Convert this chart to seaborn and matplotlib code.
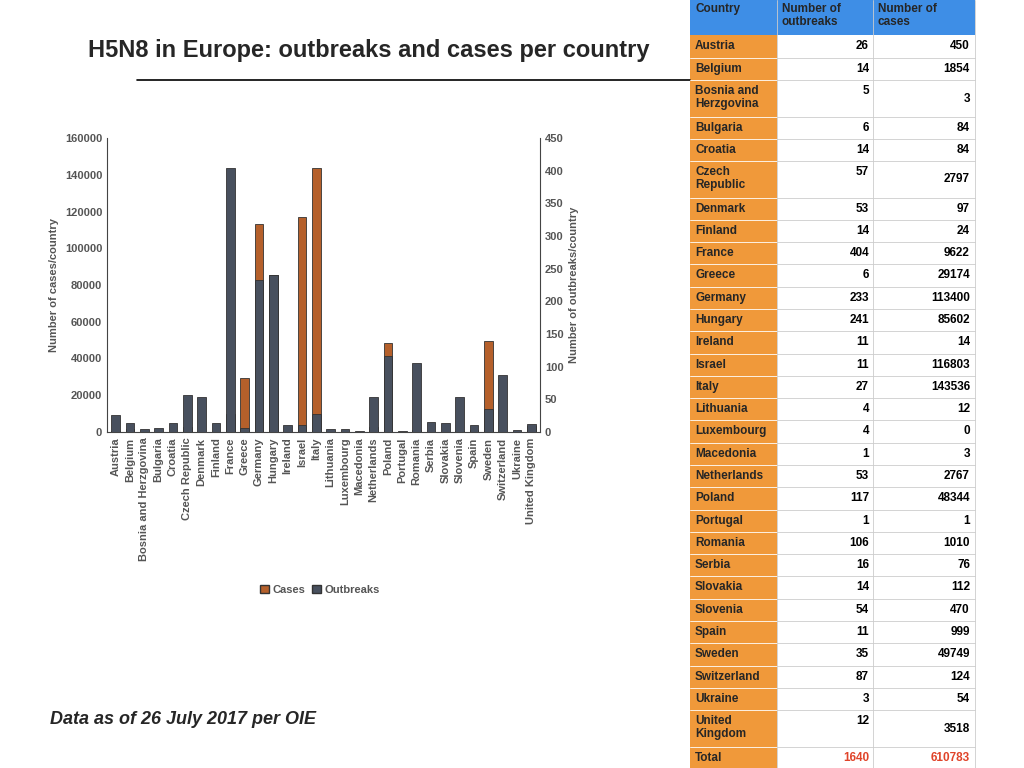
import matplotlib
matplotlib.use("Agg")
import matplotlib.pyplot as plt
import seaborn as sns
import pandas as pd
from matplotlib.patches import Rectangle, Patch

countries = ["Austria", "Belgium", "Bosnia and Herzgovina", "Bulgaria", "Croatia", "Czech Republic",
             "Denmark", "Finland", "France", "Greece", "Germany", "Hungary", "Ireland", "Israel", "Italy",
             "Lithuania", "Luxembourg", "Macedonia", "Netherlands", "Poland", "Portugal", "Romania",
             "Serbia", "Slovakia", "Slovenia", "Spain", "Sweden", "Switzerland", "Ukraine", "United Kingdom"]
table_names = ["Austria", "Belgium", "Bosnia and\nHerzgovina", "Bulgaria", "Croatia", "Czech\nRepublic",
               "Denmark", "Finland", "France", "Greece", "Germany", "Hungary", "Ireland", "Israel", "Italy",
               "Lithuania", "Luxembourg", "Macedonia", "Netherlands", "Poland", "Portugal", "Romania",
               "Serbia", "Slovakia", "Slovenia", "Spain", "Sweden", "Switzerland", "Ukraine", "United\nKingdom"]
outbreaks = [26, 14, 5, 6, 14, 57, 53, 14, 404, 6, 233, 241, 11, 11, 27, 4, 4, 1, 53, 117, 1, 106,
             16, 14, 54, 11, 35, 87, 3, 12]
cases = [450, 1854, 3, 84, 84, 2797, 97, 24, 9622, 29174, 113400, 85602, 14, 116803, 143536, 12, 0, 3,
         2767, 48344, 1, 1010, 76, 112, 470, 999, 49749, 124, 54, 3518]
# row boundaries of the table in pixels (from top)
row_edges = [0, 35, 58, 80, 117, 139, 161, 198, 220, 242, 264, 287, 309, 331, 354, 376, 398, 420, 443,
             465, 487, 510, 532, 554, 576, 599, 621, 643, 666, 688, 710, 747, 768]

W, H = 1024, 768
CASE_C = "#b5602b"
OUT_C = "#48505e"
GRAY = "#555555"

sns.set_style("white")
plt.rcParams['font.family'] = ['Liberation Sans', 'DejaVu Sans']
fig = plt.figure(figsize=(10.24, 7.68), dpi=100)

def fx(x): return x / W
def fy(y): return 1 - y / H

df = pd.DataFrame({"country": countries, "cases": cases, "outbreaks": outbreaks})

ax1 = fig.add_axes([fx(107), fy(432), fx(540 - 107), (432 - 138) / H])
sns.barplot(data=df, x="country", y="cases", color=CASE_C, width=0.6, ax=ax1,
            edgecolor="#333333", linewidth=0.6, saturation=1)
ax1.set_ylim(0, 160000)
ax1.set_yticks(range(0, 160001, 20000))
ax2 = ax1.twinx()
sns.barplot(data=df, x="country", y="outbreaks", color=OUT_C, width=0.6, ax=ax2,
            edgecolor="#333333", linewidth=0.6, saturation=1)
ax2.set_ylim(0, 450)
ax2.set_yticks(range(0, 451, 50))
ax1.set_xlim(-0.6, len(countries) - 0.4)
for a in (ax1, ax2):
    a.tick_params(axis="y", labelsize=8, labelcolor=GRAY, length=0)
    for lab in a.get_yticklabels():
        lab.set_fontweight("bold")
    for s in a.spines.values():
        s.set_visible(False)
ax1.spines["left"].set_visible(True)
ax1.spines["bottom"].set_visible(True)
ax1.spines["right"].set_visible(True)
for s in ("left", "bottom", "right"):
    ax1.spines[s].set_color("#444444")
    ax1.spines[s].set_linewidth(0.8)
ax1.set_xlabel("")
ax2.set_xlabel("")
ax1.set_xticks(range(len(countries)))
ax1.set_xticklabels(countries, rotation=90, fontsize=8, color=GRAY, fontweight="bold")
ax1.tick_params(axis="x", length=0, pad=4)
ax1.set_ylabel("Number of cases/country", fontsize=8, color=GRAY, fontweight="bold")
ax2.set_ylabel("Number of outbreaks/country", fontsize=8, color=GRAY, fontweight="bold")

fig.legend(handles=[Patch(facecolor=CASE_C, edgecolor="#333333", label="Cases"),
                    Patch(facecolor=OUT_C, edgecolor="#333333", label="Outbreaks")],
           loc="center", bbox_to_anchor=(fx(320), fy(590)), ncol=2, frameon=False,
           fontsize=8, handlelength=0.8, handletextpad=0.3, columnspacing=0.6,
           labelcolor=GRAY, prop={"weight": "bold", "size": 8})

fig.text(fx(88), fy(50), "H5N8 in Europe: outbreaks and cases per country", fontsize=17,
         fontweight="bold", va="center", ha="left")
fig.add_artist(plt.Line2D([fx(137), fx(690)], [fy(80), fy(80)], color="black", lw=1.2))
fig.text(fx(50), fy(720), "Data as of 26 July 2017 per OIE", fontsize=13, fontweight="bold",
         style="italic", va="center", ha="left")

# table
cols = [690, 777, 873, 975]
def rect(x0, y0, x1, y1, color):
    fig.add_artist(Rectangle((fx(x0), fy(y1)), fx(x1 - x0), (y1 - y0) / H, facecolor=color,
                             edgecolor="none", transform=fig.transFigure))

rect(cols[0], 0, cols[3], 35, "#3e8ee6")
for i, h in enumerate(["Country", "Number of\noutbreaks", "Number of\ncases"]):
    fig.text(fx(cols[i] + 5), fy(3), h, fontsize=8.5, fontweight="bold", va="top", ha="left",
             linespacing=1.1)
rect(cols[0], 35, cols[1], 768, "#f0993a")

rows = list(zip(table_names, outbreaks, cases)) + [("Total", sum(outbreaks), sum(cases))]
for k, (name, o, c) in enumerate(rows):
    y0, y1 = row_edges[k + 1], row_edges[k + 2]
    two = "\n" in name
    fig.add_artist(plt.Line2D([fx(cols[1]), fx(cols[3])], [fy(y1), fy(y1)], color="#cccccc", lw=0.6))
    fig.add_artist(plt.Line2D([fx(cols[0]), fx(cols[1])], [fy(y1), fy(y1)], color="#ffffff", lw=0.6))
    col = "#e0442a" if name == "Total" else "black"
    fig.text(fx(cols[0] + 5), fy(y0 + 5), name, fontsize=8.5, fontweight="bold", va="top",
             ha="left", linespacing=1.1)
    fig.text(fx(cols[2] - 4), fy(y0 + 5), str(o), fontsize=8.5, fontweight="bold", va="top",
             ha="right", color=col)
    ymid = (y0 + y1) / 2
    if two:
        fig.text(fx(cols[3] - 5), fy(ymid), str(c), fontsize=8.5, fontweight="bold", va="center",
                 ha="right", color=col)
    else:
        fig.text(fx(cols[3] - 5), fy(y0 + 5), str(c), fontsize=8.5, fontweight="bold", va="top",
                 ha="right", color=col)
for x in cols[1:]:
    fig.add_artist(plt.Line2D([fx(x), fx(x)], [fy(0), fy(768)], color="#cccccc", lw=0.6))

fig.savefig("out.png", dpi=100)
